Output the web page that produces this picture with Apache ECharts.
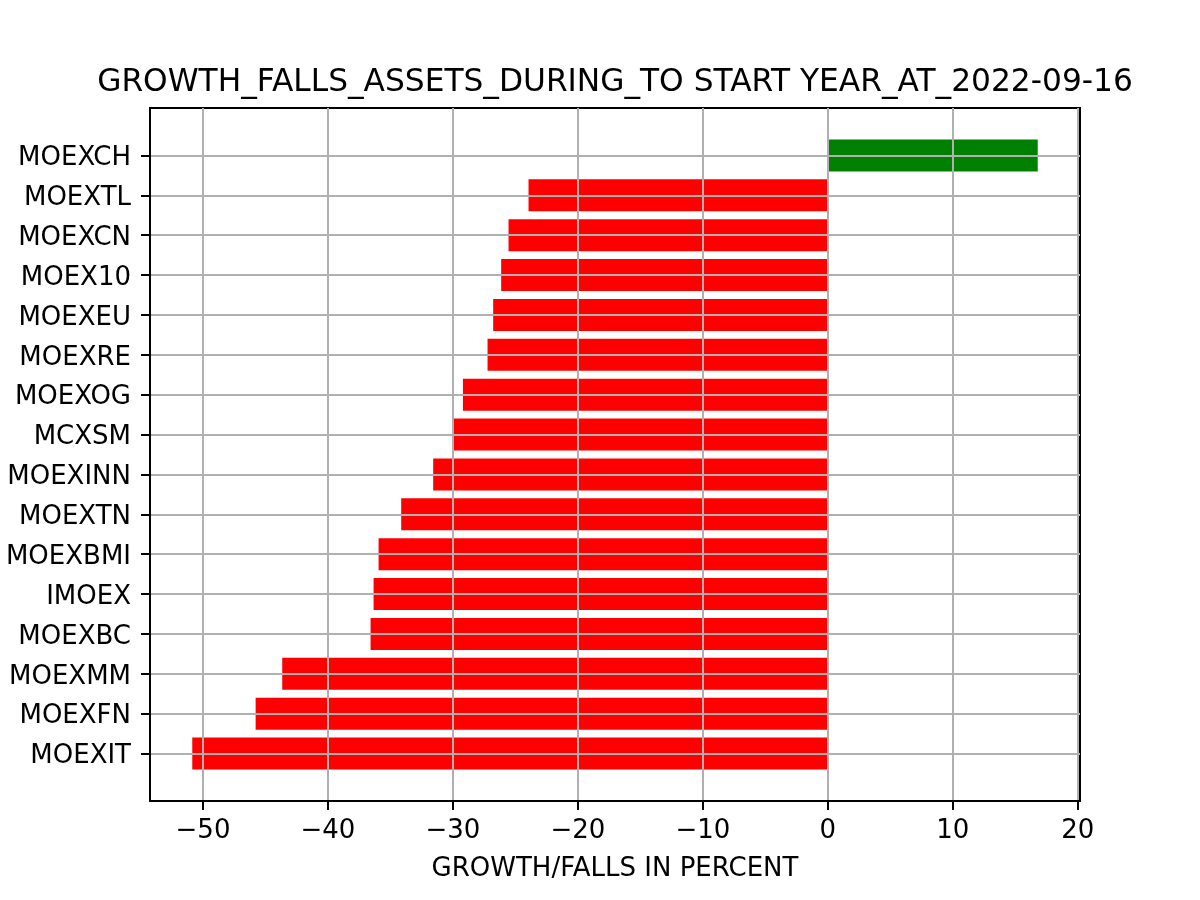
<!DOCTYPE html>
<html>
<head>
<meta charset="utf-8">
<script src="https://cdn.jsdelivr.net/npm/echarts@6/dist/echarts.min.js"></script>
<style>html,body{margin:0;padding:0;background:#fff}#c{width:1200px;height:900px}</style>
</head>
<body>
<div id="c"></div>
<script>
// categories listed bottom to top (matplotlib barh order)
const categories = ['MOEXIT','MOEXFN','MOEXMM','MOEXBC','IMOEX','MOEXBMI','MOEXTN','MOEXINN','MCXSM','MOEXOG','MOEXRE','MOEXEU','MOEX10','MOEXCN','MOEXTL','MOEXCH'];
const values = [-50.86,-45.79,-43.66,-36.59,-36.35,-35.95,-34.14,-31.58,-29.95,-29.2,-27.23,-26.78,-26.14,-25.55,-23.95,16.8];
const xTicks = [-50,-40,-30,-20,-10,0,10,20];
const titleText = 'GROWTH_FALLS_ASSETS_DURING_TO START YEAR_AT_2022-09-16';
const xLabel = 'GROWTH/FALLS IN PERCENT';

const FONT = 'DejaVu Sans';
const dMin = Math.min(0, ...values), dMax = Math.max(0, ...values);
const xm = 0.05 * (dMax - dMin);
const yLo = -0.4, yHi = categories.length - 1 + 0.4, ym = 0.05 * (yHi - yLo);
const yTicks = categories.map((c, i) => i);

const chart = echarts.init(document.getElementById('c'), null, {renderer: 'canvas'});
chart.setOption({
  backgroundColor: '#fff',
  animation: false,
  graphic: [{
    type: 'text', x: 615, y: 83, z: 10,
    style: {text: titleText, fontFamily: FONT, fontSize: 31.25, fill: '#000', align: 'center', verticalAlign: 'middle'}
  }],
  grid: {left: 150, right: 120, top: 108, bottom: 99, show: true, borderColor: '#000', borderWidth: 2, backgroundColor: 'transparent'},
  xAxis: {
    type: 'value', min: dMin - xm, max: dMax + xm, z: 3,
    name: xLabel, nameLocation: 'middle', nameGap: 55,
    nameTextStyle: {fontFamily: FONT, fontSize: 26, color: '#000'},
    axisLine: {show: true, onZero: false, lineStyle: {color: '#000', width: 2}},
    axisTick: {show: true, customValues: xTicks, length: 9, inside: false, lineStyle: {color: '#000', width: 2}},
    axisLabel: {customValues: xTicks, margin: 17, fontFamily: FONT, fontSize: 26, color: '#000',
      formatter: v => String(v).replace('-', '\u2212')},
    splitLine: {show: true, lineStyle: {color: '#b0b0b0', width: 2}}
  },
  yAxis: {
    type: 'value', min: yLo - ym, max: yHi + ym, z: 3,
    axisLine: {show: true, onZero: false, lineStyle: {color: '#000', width: 2}},
    axisTick: {show: true, customValues: yTicks, length: 9, inside: false, lineStyle: {color: '#000', width: 2}},
    axisLabel: {customValues: yTicks, margin: 19, fontFamily: FONT, fontSize: 26, color: '#000',
      rich: {c: {fontFamily: FONT, fontSize: 26, color: '#000', padding: [6, 0, 0, 0]}},
      formatter: v => '{c|' + categories[Math.round(v)] + '}'},
    splitLine: {show: true, lineStyle: {color: '#b0b0b0', width: 2}}
  },
  series: [{
    type: 'custom',
    data: values.map((v, i) => [v, i]),
    encode: {x: 0, y: 1},
    renderItem: function (params, api) {
      const v = api.value(0), y = api.value(1);
      const p0 = api.coord([0, y]), p1 = api.coord([v, y]);
      const h = api.size([0, 0.8])[1];
      return {
        type: 'rect',
        shape: {x: Math.min(p0[0], p1[0]), y: p0[1] - h / 2, width: Math.abs(p1[0] - p0[0]), height: h},
        style: {fill: v >= 0 ? '#008000' : '#ff0000'}
      };
    },
    z: 2
  }]
});
</script>
</body>
</html>
